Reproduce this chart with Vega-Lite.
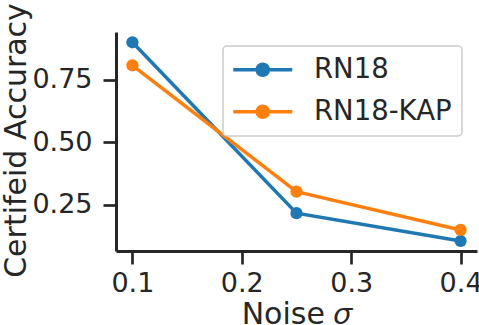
{
  "$schema": "https://vega.github.io/schema/vega-lite/v6.json",
  "width": 361,
  "height": 219,
  "autosize": {"type": "none"},
  "padding": {"left": 116, "top": 32, "right": 2, "bottom": 74},
  "background": "white",
  "config": {
    "font": "DejaVu Sans",
    "view": {"stroke": null},
    "axis": {
      "grid": false,
      "domainColor": "#262626",
      "domainWidth": 3,
      "tickColor": "#262626",
      "tickWidth": 2.7,
      "tickSize": 13,
      "labelFont": "DejaVu Sans",
      "labelFontSize": 27,
      "labelColor": "#262626",
      "titleFont": "DejaVu Sans",
      "titleFontSize": 30,
      "titleFontWeight": "normal",
      "titleColor": "#262626"
    }
  },
  "data": {
    "values": [
      {"model": "RN18", "noise": 0.1, "acc": 0.899},
      {"model": "RN18", "noise": 0.25, "acc": 0.217},
      {"model": "RN18", "noise": 0.4, "acc": 0.106},
      {"model": "RN18-KAP", "noise": 0.1, "acc": 0.807},
      {"model": "RN18-KAP", "noise": 0.25, "acc": 0.303},
      {"model": "RN18-KAP", "noise": 0.4, "acc": 0.15}
    ]
  },
  "mark": {"type": "line", "strokeWidth": 3.5, "point": {"filled": true, "size": 150, "opacity": 1}},
  "encoding": {
    "x": {
      "field": "noise",
      "type": "quantitative",
      "scale": {"domain": [0.085, 0.415], "nice": false, "zero": false},
      "axis": {
        "values": [0.1, 0.2, 0.3, 0.4],
        "format": ".1f",
        "labelBaseline": "alphabetic",
        "labelPadding": 27.7,
        "labelFlush": false,
        "title": "Noise 𝜎",
        "titleBaseline": "alphabetic",
        "titleY": 72
      }
    },
    "y": {
      "field": "acc",
      "type": "quantitative",
      "scale": {"domain": [0.066, 0.94], "nice": false, "zero": false},
      "axis": {
        "values": [0.25, 0.5, 0.75],
        "format": ".2f",
        "labelPadding": 11,
        "labelFlush": false,
        "title": "Certifeid Accuracy",
        "titleBaseline": "alphabetic",
        "titleX": -91,
        "titleY": 108,
        "titleAngle": -90,
        "titleAlign": "center"
      }
    },
    "color": {
      "field": "model",
      "type": "nominal",
      "scale": {"domain": ["RN18", "RN18-KAP"], "range": ["#1f77b4", "#ff7f0e"]},
      "legend": {
        "title": null,
        "orient": "none",
        "legendX": 107,
        "legendY": 14,
        "padding": 10,
        "fillColor": "rgba(255,255,255,0.8)",
        "strokeColor": "#cccccc",
        "cornerRadius": 4,
        "labelFont": "DejaVu Sans",
        "labelFontSize": 27.5,
        "labelColor": "#262626",
        "rowPadding": 13,
        "symbolType": "M -2.95 0 L 2.95 0 M 0.56 0 A 0.56 0.56 0 1 1 -0.56 0 A 0.56 0.56 0 1 1 0.56 0 Z",
        "symbolSize": 400,
        "symbolStrokeWidth": 3.5,
        "symbolOffset": 16,
        "labelOffset": 37.5,
        "encode": {
          "legend": {
            "update": {
              "strokeWidth": {"value": 1.5}
            }
          },
          "symbols": {
            "update": {
              "fill": {"scale": "color", "field": "value"},
              "stroke": {"scale": "color", "field": "value"},
              "opacity": {"value": 1}
            }
          }
        }
      }
    }
  }
}
